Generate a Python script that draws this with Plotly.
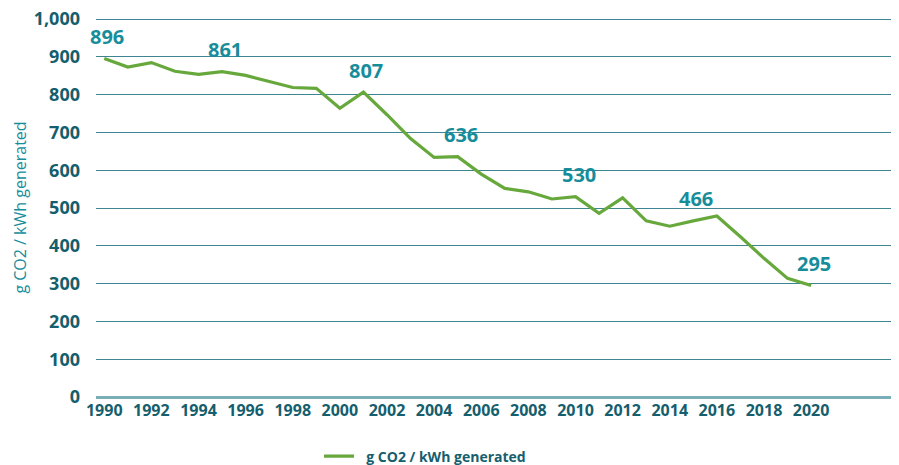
import plotly.graph_objects as go

years = list(range(1990, 2021))
values = [896, 873, 885, 862, 854, 861, 851, 836, 819, 817, 764, 807, 747, 684, 634,
          636, 590, 552, 543, 524, 530, 486, 527, 466, 452, 466, 479, 424, 367, 314, 295]
label_years = [1990, 1995, 2001, 2005, 2010, 2015, 2020]
series_name = "g CO2 / kWh generated"
y_ticks = [0, 100, 200, 300, 400, 500, 600, 700, 800, 900, 1000]
x_ticks = list(range(1990, 2021, 2))

GREEN = "#67a83c"
TEAL = "#178d9b"
DARK = "#155e6d"
GRID = "#3d8593"

fig = go.Figure()
fig.add_trace(go.Scatter(
    x=years, y=values, mode="lines", name="\u00a0\u00a0" + series_name,
    line=dict(color=GREEN, width=3.2),
))

for yr in label_years:
    v = values[years.index(yr)]
    fig.add_annotation(
        x=yr, y=v, text=str(v), showarrow=False,
        xshift=3, yshift=22,
        font=dict(family="Open Sans", size=20, color=TEAL, weight="bold"),
    )

fig.update_layout(
    width=899, height=465,
    margin=dict(l=96, r=8, t=18, b=68, autoexpand=False),
    paper_bgcolor="white", plot_bgcolor="white",
    font=dict(family="Open Sans", color=DARK),
    showlegend=True,
    legend=dict(
        orientation="h", x=0.2805, xanchor="left", y=-0.115, yanchor="top",
        font=dict(family="Open Sans", size=14, color=DARK, weight="bold"),
        itemwidth=30,
    ),
)
fig.update_xaxes(
    range=[1989.65, 2023.39],
    tickmode="array", tickvals=x_ticks, ticktext=[str(t) for t in x_ticks],
    showgrid=False, zeroline=False, showline=False, ticks="",
    tickfont=dict(family="Open Sans", size=16, color=DARK, weight="bold"),
    ticklabelstandoff=2, automargin=False,
)
fig.update_yaxes(
    range=[0, 1003],
    tickmode="array", tickvals=y_ticks,
    ticktext=[f"{t:,}" for t in y_ticks],
    showgrid=True, gridcolor=GRID, gridwidth=1.3,
    zeroline=True, zerolinecolor="#79adb8", zerolinewidth=2.5,
    ticks="", ticklabelstandoff=15, automargin=False, ticklabeloverflow="allow",
    tickfont=dict(family="Open Sans", size=18, color=DARK, weight="bold"),
    title=dict(text=series_name, font=dict(family="Open Sans", size=16, color=TEAL), standoff=3),
)

fig.write_html("out.html", config={"displayModeBar": False},
               post_script="document.body.style.margin='0';")
